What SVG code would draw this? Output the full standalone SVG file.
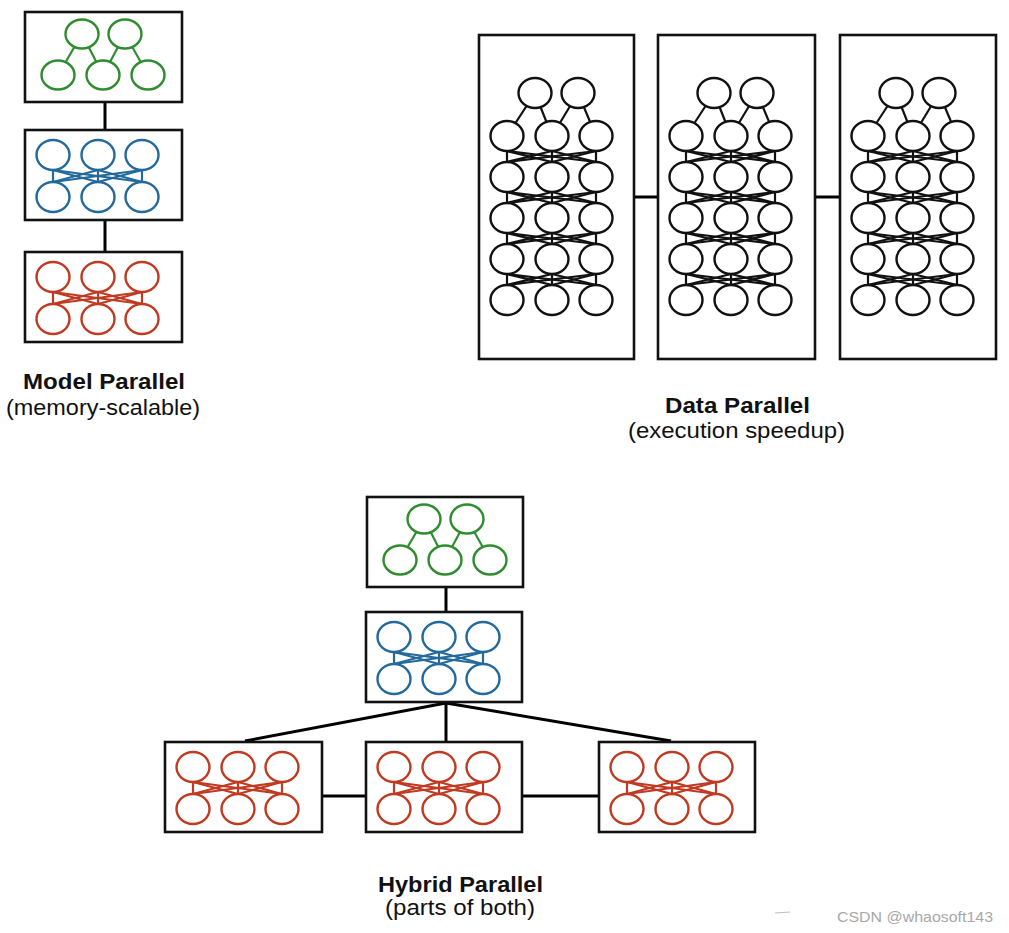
<svg xmlns="http://www.w3.org/2000/svg" xmlns:xlink="http://www.w3.org/1999/xlink" width="1009" height="933" viewBox="0 0 1009 933">
<style>
.box{fill:#fff;stroke:#111;stroke-width:2.6}
.conn{stroke:#000;stroke-width:3;fill:none}
.net line{stroke-width:2.2}
.net ellipse{fill:#fff;stroke-width:2.4}
.green{stroke:#2f8c2f}
.blue{stroke:#23699c}
.red{stroke:#c03a22}
.black{stroke:#111}
.title{font-family:"Liberation Sans",Arial,sans-serif;font-weight:bold;font-size:21.5px;fill:#111}
.sub{font-family:"Liberation Sans",Arial,sans-serif;font-size:21.5px;fill:#111}
.wm{font-family:"Liberation Sans",Arial,sans-serif;font-size:15px;fill:#a8a8a8}
</style>
<defs>
<g id="mnet" class="net">
<line x1="57" y1="22" x2="33" y2="63"/>
<line x1="57" y1="22" x2="78" y2="63"/>
<line x1="100" y1="22" x2="78" y2="63"/>
<line x1="100" y1="22" x2="123" y2="63"/>
<ellipse cx="57" cy="22" rx="16.5" ry="14.5"/>
<ellipse cx="100" cy="22" rx="16.5" ry="14.5"/>
<ellipse cx="33" cy="63" rx="16.5" ry="14.5"/>
<ellipse cx="78" cy="63" rx="16.5" ry="14.5"/>
<ellipse cx="123" cy="63" rx="16.5" ry="14.5"/>
</g>
<g id="bip" class="net">
<line x1="28" y1="0" x2="28" y2="12"/>
<line x1="28" y1="0" x2="73" y2="12"/>
<line x1="28" y1="0" x2="117" y2="12"/>
<line x1="73" y1="0" x2="28" y2="12"/>
<line x1="73" y1="0" x2="73" y2="12"/>
<line x1="73" y1="0" x2="117" y2="12"/>
<line x1="117" y1="0" x2="28" y2="12"/>
<line x1="117" y1="0" x2="73" y2="12"/>
<line x1="117" y1="0" x2="117" y2="12"/>
</g>
<g id="bipd" class="net">
<line x1="28" y1="0" x2="28" y2="11"/>
<line x1="28" y1="0" x2="73" y2="11"/>
<line x1="28" y1="0" x2="117" y2="11"/>
<line x1="73" y1="0" x2="28" y2="11"/>
<line x1="73" y1="0" x2="73" y2="11"/>
<line x1="73" y1="0" x2="117" y2="11"/>
<line x1="117" y1="0" x2="28" y2="11"/>
<line x1="117" y1="0" x2="73" y2="11"/>
<line x1="117" y1="0" x2="117" y2="11"/>
</g>
<g id="row3" class="net">
<ellipse cx="28" cy="0" rx="16.5" ry="15"/>
<ellipse cx="73" cy="0" rx="16.5" ry="15"/>
<ellipse cx="117" cy="0" rx="16.5" ry="15"/>
</g>
<g id="lnet">
<use xlink:href="#bip" y="40"/>
<use xlink:href="#row3" y="25"/>
<use xlink:href="#row3" y="67"/>
</g>
<g id="dnet" class="net">
<use xlink:href="#bipd" y="116"/>
<use xlink:href="#bipd" y="157"/>
<use xlink:href="#bipd" y="198"/>
<use xlink:href="#bipd" y="239"/>
<line x1="56" y1="58" x2="28" y2="101"/>
<line x1="56" y1="58" x2="73" y2="101"/>
<line x1="99" y1="58" x2="73" y2="101"/>
<line x1="99" y1="58" x2="117" y2="101"/>
<ellipse cx="56" cy="58" rx="16.5" ry="15"/>
<ellipse cx="99" cy="58" rx="16.5" ry="15"/>
<use xlink:href="#row3" y="101"/>
<use xlink:href="#row3" y="142"/>
<use xlink:href="#row3" y="183"/>
<use xlink:href="#row3" y="224"/>
<use xlink:href="#row3" y="265"/>
</g>
</defs>

<g id="connectors">
<line class="conn" x1="105" y1="102" x2="105" y2="130"/>
<line class="conn" x1="105" y1="220" x2="105" y2="252"/>
<line class="conn" x1="634" y1="197" x2="658" y2="197"/>
<line class="conn" x1="815" y1="197" x2="840" y2="197"/>
<line class="conn" x1="446" y1="587" x2="446" y2="612"/>
<line class="conn" x1="446" y1="702" x2="446" y2="742"/>
<line class="conn" x1="446" y1="703" x2="245" y2="741"/>
<line class="conn" x1="446" y1="703" x2="671" y2="741"/>
<line class="conn" x1="322" y1="796" x2="366" y2="796"/>
<line class="conn" x1="522" y1="796" x2="599" y2="796"/>
</g>

<g id="model-green">
<rect class="box" x="25" y="12" width="157" height="90"/>
<use xlink:href="#mnet" class="green" x="25" y="12"/>
</g>
<g id="model-blue">
<rect class="box" x="25" y="130" width="157" height="90"/>
<use xlink:href="#lnet" class="blue" x="25" y="130"/>
</g>
<g id="model-red">
<rect class="box" x="25" y="252" width="157" height="90"/>
<use xlink:href="#lnet" class="red" x="25" y="252"/>
</g>

<g id="data-1">
<rect class="box" x="479" y="35" width="155" height="324"/>
<use xlink:href="#dnet" class="black" x="479" y="35"/>
</g>
<g id="data-2">
<rect class="box" x="658" y="35" width="157" height="324"/>
<use xlink:href="#dnet" class="black" x="658" y="35"/>
</g>
<g id="data-3">
<rect class="box" x="840" y="35" width="156" height="324"/>
<use xlink:href="#dnet" class="black" x="840" y="35"/>
</g>

<g id="hybrid-green">
<rect class="box" x="367" y="497" width="156" height="90"/>
<use xlink:href="#mnet" class="green" x="367" y="497"/>
</g>
<g id="hybrid-blue">
<rect class="box" x="366" y="612" width="156" height="90"/>
<use xlink:href="#lnet" class="blue" x="366" y="612"/>
</g>
<g id="hybrid-red-1">
<rect class="box" x="165" y="742" width="157" height="90"/>
<use xlink:href="#lnet" class="red" x="165" y="742"/>
</g>
<g id="hybrid-red-2">
<rect class="box" x="366" y="742" width="156" height="90"/>
<use xlink:href="#lnet" class="red" x="366" y="742"/>
</g>
<g id="hybrid-red-3">
<rect class="box" x="599" y="742" width="156" height="90"/>
<use xlink:href="#lnet" class="red" x="599" y="742"/>
</g>

<g id="labels">
<text class="title" x="23" y="389" textLength="162" lengthAdjust="spacingAndGlyphs">Model Parallel</text>
<text class="sub" x="6" y="415" textLength="194" lengthAdjust="spacingAndGlyphs">(memory-scalable)</text>
<text class="title" x="665" y="413" textLength="145" lengthAdjust="spacingAndGlyphs">Data Parallel</text>
<text class="sub" x="628" y="438" textLength="217" lengthAdjust="spacingAndGlyphs">(execution speedup)</text>
<text class="title" x="378" y="892" textLength="165" lengthAdjust="spacingAndGlyphs">Hybrid Parallel</text>
<text class="sub" x="385" y="915" textLength="150" lengthAdjust="spacingAndGlyphs">(parts of both)</text>
<line x1="775" y1="913" x2="790" y2="912" stroke="#bbb" stroke-width="1"/>
<text class="wm" x="837" y="922" textLength="156" lengthAdjust="spacingAndGlyphs">CSDN @whaosoft143</text>
</g>
</svg>
